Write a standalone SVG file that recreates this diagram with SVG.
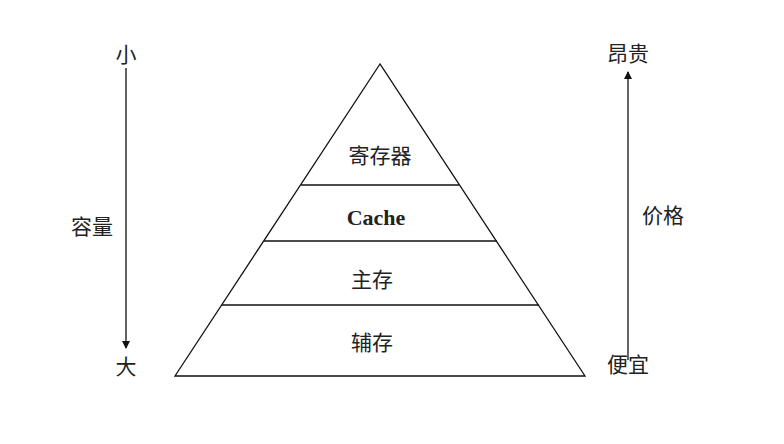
<svg xmlns="http://www.w3.org/2000/svg" width="784" height="444" viewBox="0 0 784 444">
<style>
.t{font-family:"Liberation Serif","Noto Sans CJK SC",serif;font-size:21px;fill:#222;text-anchor:middle}
.b{font-weight:bold;font-size:22px}
.l{stroke:#111;stroke-width:1.3;fill:none}
</style>
<defs>
<marker id="ah" markerWidth="8" markerHeight="10" refX="7" refY="4" orient="auto" markerUnits="userSpaceOnUse">
<path d="M0,0 L8,4 L0,8 Z" fill="#111"/>
</marker>
</defs>
<rect width="784" height="444" fill="#fff"/>
<g id="pyramid">
<polygon class="l" points="380,64 175,376 585,376"/>
<line class="l" x1="301" y1="185" x2="459" y2="185"/>
<line class="l" x1="264" y1="241" x2="497" y2="241"/>
<line class="l" x1="222" y1="305" x2="539" y2="305"/>
</g>
<g id="reg"><text class="t" x="380" y="163">寄存器</text></g>
<g id="cache"><text class="t b" x="376" y="225">Cache</text></g>
<g id="main"><text class="t" x="372" y="287">主存</text></g>
<g id="aux"><text class="t" x="372" y="350">辅存</text></g>
<g id="small"><text class="t" x="126" y="62">小</text></g>
<g id="big"><text class="t" x="126" y="374">大</text></g>
<g id="cap"><text class="t" x="92" y="234">容量</text></g>
<g id="exp"><text class="t" x="628" y="61">昂贵</text></g>
<g id="cheap"><text class="t" x="628" y="372">便宜</text></g>
<g id="price"><text class="t" x="663" y="223">价格</text></g>
<g id="connectors">
<line class="l" x1="126" y1="68" x2="126" y2="348" marker-end="url(#ah)"/>
<line class="l" x1="628" y1="360" x2="628" y2="72" marker-end="url(#ah)"/>
</g>
</svg>
